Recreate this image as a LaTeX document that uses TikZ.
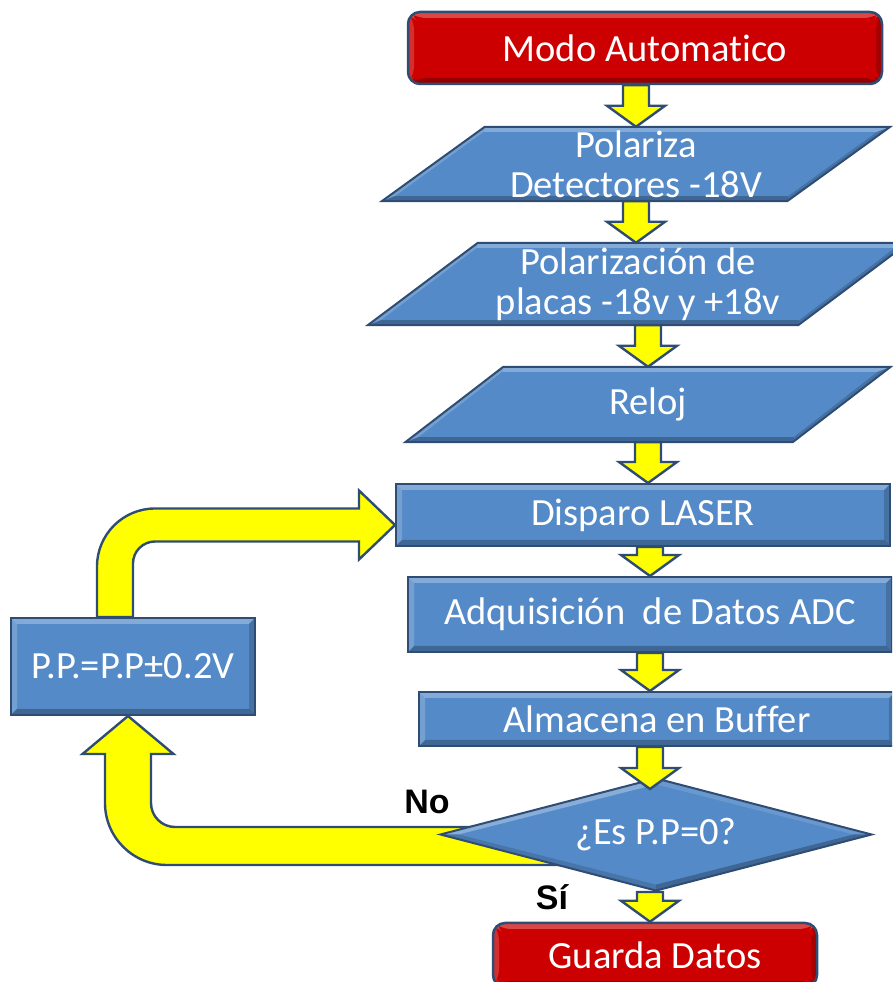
\documentclass[tikz,border=0pt]{standalone}
\usepackage{fontspec}
\setmainfont{Carlito}[Ligatures=NoCommon]
\newfontfamily\labelfont{Liberation Sans}
\usetikzlibrary{shapes.geometric,calc}
\pgfdeclarelayer{back}
\pgfsetlayers{back,main}

\definecolor{boxblue}{HTML}{558AC8}
\definecolor{rimblue}{HTML}{2F4D73}
\definecolor{stopred}{HTML}{CC0000}
\definecolor{flowyellow}{HTML}{FFFF00}

\tikzset{
  every node/.style={text=white, font=\fontsize{38.5}{40}\selectfont, align=center, inner sep=0pt},
  bevel/.style={path picture={
    \fill[white,opacity=.28] (path picture bounding box.north west) -- (path picture bounding box.north east)
      -- ([shift={(-6pt,-6pt)}]path picture bounding box.north east) -- ([shift={(6pt,-6pt)}]path picture bounding box.north west) -- cycle;
    \fill[white,opacity=.18] (path picture bounding box.north west) -- ([shift={(6pt,-6pt)}]path picture bounding box.north west)
      -- ([shift={(6pt,6pt)}]path picture bounding box.south west) -- (path picture bounding box.south west) -- cycle;
    \fill[black,opacity=.25] (path picture bounding box.south west) -- (path picture bounding box.south east)
      -- ([shift={(-6pt,6pt)}]path picture bounding box.south east) -- ([shift={(6pt,6pt)}]path picture bounding box.south west) -- cycle;
    \fill[black,opacity=.18] (path picture bounding box.north east) -- ([shift={(-6pt,-6pt)}]path picture bounding box.north east)
      -- ([shift={(-6pt,6pt)}]path picture bounding box.south east) -- (path picture bounding box.south east) -- cycle;
  }},
  diamondbevel/.style={path picture={
    \fill[white,opacity=.30] (path picture bounding box.west) -- (path picture bounding box.north)
      -- ([yshift=-6pt]path picture bounding box.north) -- ([xshift=18pt]path picture bounding box.west) -- cycle;
    \fill[white,opacity=.12] (path picture bounding box.north) -- (path picture bounding box.east)
      -- ([xshift=-18pt]path picture bounding box.east) -- ([yshift=-6pt]path picture bounding box.north) -- cycle;
    \fill[black,opacity=.25] (path picture bounding box.east) -- (path picture bounding box.south)
      -- ([yshift=6pt]path picture bounding box.south) -- ([xshift=-18pt]path picture bounding box.east) -- cycle;
    \fill[black,opacity=.15] (path picture bounding box.south) -- (path picture bounding box.west)
      -- ([xshift=18pt]path picture bounding box.west) -- ([yshift=6pt]path picture bounding box.south) -- cycle;
  }},
  procbox/.style={rectangle, fill=boxblue, draw=rimblue, line width=2pt, bevel},
  termbox/.style={rectangle, rounded corners=12pt, fill=stopred, draw=rimblue, line width=2.5pt, bevel},
  slanttext/.style={rectangle},
  slantfill/.style={fill=boxblue, draw=rimblue, line width=2pt, line join=miter},
  decbox/.style={diamond, aspect=3.8, fill=boxblue, draw=rimblue, line width=2pt, diamondbevel},
  flow/.style={fill=flowyellow, draw=rimblue, line width=2.4pt, line join=miter},
  answer/.style={text=black, font=\labelfont\bfseries\fontsize{34}{36}\selectfont},
}

% small downward block arrow between two points on the same column
\newcommand\flowdown[2]{%
  \path[flow] let \p1=(#1), \p2=(#2) in
    (\x1-13pt,\y1) -- (\x1-13pt,\y2+21pt) -- (\x1-29pt,\y2+21pt) -- (\x1,\y2)
    -- (\x1+29pt,\y2+21pt) -- (\x1+13pt,\y2+21pt) -- (\x1+13pt,\y1) -- cycle;}

% bevelled parallelogram around a text node, #2 = half of the horizontal slant
\newcommand\slantshape[2]{%
  \coordinate (#1-tl) at ($(#1.north west)+(#2,0)$);
  \coordinate (#1-tr) at ($(#1.north east)+(#2,0)$);
  \coordinate (#1-br) at ($(#1.south east)+(-#2,0)$);
  \coordinate (#1-bl) at ($(#1.south west)+(-#2,0)$);
  \fill[boxblue] (#1-tl) -- (#1-tr) -- (#1-br) -- (#1-bl) -- cycle;
  \fill[white,opacity=.28] (#1-tl) -- (#1-tr) -- ($(#1-tr)+(-13,-5)$) -- ($(#1-tl)+(-1,-5)$) -- cycle;
  \fill[white,opacity=.18] (#1-tl) -- ($(#1-tl)+(-1,-5)$) -- ($(#1-bl)+(13,5)$) -- (#1-bl) -- cycle;
  \fill[black,opacity=.25] (#1-bl) -- ($(#1-bl)+(13,5)$) -- ($(#1-br)+(1,5)$) -- (#1-br) -- cycle;
  \fill[black,opacity=.18] (#1-br) -- ($(#1-br)+(1,5)$) -- ($(#1-tr)+(-13,-5)$) -- (#1-tr) -- cycle;
  \draw[rimblue, line width=2pt, line join=miter] (#1-tl) -- (#1-tr) -- (#1-br) -- (#1-bl) -- cycle;}

\begin{document}
\begin{tikzpicture}[x=1pt,y=1pt]
\useasboundingbox (0,0) rectangle (892,982);
\clip (0,0) rectangle (892,982);

% process chain
\node[termbox, minimum width=474pt, minimum height=72pt] (modo) at (645,934) {Modo Automatico};
\node[slanttext, minimum width=405pt, minimum height=74pt] (p1) at (636,818) {Polariza\\Detectores -18V};
\node[slanttext, minimum width=430pt, minimum height=82pt] (p2) at (638,698) {Polarizaci\'on de\\placas -18v y +18v};
\node[slanttext, minimum width=387pt, minimum height=75pt] (p3) at (648,577.5) {Reloj};
\node[procbox, minimum width=494pt, minimum height=62pt] (laser) at (643,467) {Disparo LASER};
\node[procbox, minimum width=484pt, minimum height=75pt] (adc) at (650,367.5) {Adquisici\'on\ \ de Datos ADC};
\node[procbox, minimum width=476pt, minimum height=54pt] (buffer) at (657,263) {Almacena en Buffer};
\node[decbox, minimum width=432pt, minimum height=113pt] (dec) at (656,147.5) {¿Es P.P=0?};
\node[termbox, minimum width=324pt, minimum height=64pt] (guarda) at (655,27) {Guarda Datos};
\node[procbox, minimum width=244pt, minimum height=97pt] (pp) at (133,315.5) {P.P.=P.P±0.2V};

\node[answer] (no) at (427,180) {No};
\node[answer] (si) at (552,85) {Sí};

\begin{pgfonlayer}{back}
  \slantshape{p1}{51.5}
  \slantshape{p2}{55}
  \slantshape{p3}{49}

  % "No" branch: from the decision back up into the correction box
  \path[flow] let \p1=($(dec.west)+(160,-11.5)$), \p2=($(pp.south)+(-5,0)$) in
    (\x1,\y1+19pt) -- (\x2+47pt,\y1+19pt) arc[start angle=270,end angle=180,radius=24pt]
    -- (\x2+23pt,\y2-38pt) -- (\x2+45.5pt,\y2-38pt) -- (\x2,\y2)
    -- (\x2-45.5pt,\y2-38pt) -- (\x2-23pt,\y2-38pt) -- (\x2-23pt,\y1+43pt)
    arc[start angle=180,end angle=270,radius=62pt] -- (\x1,\y1-19pt) -- cycle;

  % correction box back to the laser shot
  \path[flow] let \p1=($(pp.north)+(-18,0)$), \p2=($(laser.west)+(0,-10)$) in
    (\x1-18pt,\y1) -- (\x1-18pt,\y2-41.5pt) arc[start angle=180,end angle=90,radius=58pt]
    -- (\x2-36pt,\y2+16.5pt) -- (\x2-36pt,\y2+34.5pt) -- (\x2,\y2)
    -- (\x2-36pt,\y2-34.5pt) -- (\x2-36pt,\y2-16.5pt) -- (\x1+40pt,\y2-16.5pt)
    arc[start angle=90,end angle=180,radius=22pt] -- (\x1+18pt,\y1) -- cycle;

  % "Sí" branch
  \flowdown{dec.south -| adc.south}{guarda.north -| adc.south}
\end{pgfonlayer}

\flowdown{modo.south -| p1.north}{p1.north}
\flowdown{p1.south}{p2.north -| p1.south}
\flowdown{p2.south -| p3.north}{p3.north}
\flowdown{p3.south}{laser.north -| p3.south}
\flowdown{laser.south -| adc.north}{adc.north}
\flowdown{adc.south}{buffer.north -| adc.south}
\flowdown{buffer.south -| adc.south}{$(dec.north -| adc.south)+(0,-12)$}
\end{tikzpicture}
\end{document}
